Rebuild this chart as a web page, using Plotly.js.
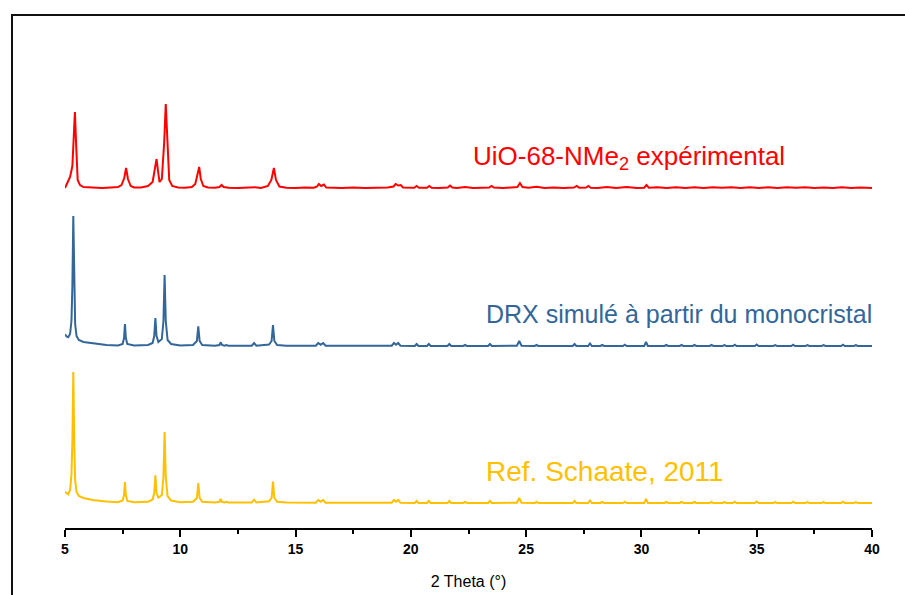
<!DOCTYPE html>
<html>
<head>
<meta charset="utf-8">
<script src="https://cdn.plot.ly/plotly-3.0.1.min.js"></script>
<style>
  html, body { margin: 0; padding: 0; overflow: hidden; background: #fff; }
  #wrap { position: relative; width: 905px; height: 595px; overflow: hidden; }
  #chart { width: 905px; height: 595px; }
  #frame { position: absolute; left: 11px; top: 14px; width: 2000px; height: 2000px;
           border-left: 2px solid #111; border-top: 2px solid #111; pointer-events: none; }
</style>
</head>
<body>
<div id="wrap"><div id="chart"></div><div id="frame"></div></div>
<script>
// ---- Data (intensity above each pattern's own baseline, arbitrary units) ----
const expX = [5.00,5.10,5.22,5.32,5.38,5.43,5.48,5.55,5.65,5.8,6.2,6.6,7.0,7.3,7.45,7.57,7.65,7.73,7.85,8.0,
  8.3,8.6,8.8,8.9,8.97,9.04,9.10,9.20,9.30,9.37,9.44,9.52,9.65,9.9,10.2,10.5,10.65,10.75,10.82,10.89,
  11.0,11.2,11.5,11.70,11.79,11.88,12.1,12.5,12.9,13.24,13.5,13.8,13.95,14.06,14.15,14.3,14.6,15.0,15.4,15.8,
  15.93,16.01,16.11,16.23,16.33,16.6,17.0,17.5,18.0,18.5,19.0,19.25,19.34,19.45,19.56,19.66,19.9,20.15,20.25,20.35,
  20.7,20.8,20.9,21.2,21.6,21.7,21.8,22.0,22.35,22.7,23.1,23.4,23.5,23.6,24.0,24.4,24.62,24.73,24.84,25.1,
  25.45,25.8,26.2,26.6,27.08,27.19,27.3,27.6,27.7,27.8,28.1,28.5,28.9,29.36,29.8,30.12,30.22,30.32,30.7,31.1,
  31.5,31.9,32.3,32.7,33.1,33.5,33.9,34.3,34.7,35.1,35.5,35.9,36.3,36.7,37.1,37.5,37.9,38.3,38.7,39.1,
  39.5,40.0];
const expY = [0,5,11,22,50,76,45,8,3,1,0.5,0,0.5,1,3,10,20,9,2,0.5,
  0.5,2,6,18,29,16,6,9,45,84,40,8,2,0.5,0.3,1,4,13,21,9,
  2,0.5,0.3,1,3,1,0.3,0,0.5,0.8,0,2,8,20,8,1.5,0.3,0,0.5,0.3,
  1.5,4,2,3.5,0.5,0.3,0,0.5,0,0.3,0.5,1.5,4,2.5,3,0.5,0.3,0.3,2,0.3,
  0.3,2,0.3,0,0.5,2.5,0.5,0,1,0,0.3,0.5,2,0.5,0,0.3,1,5,1,0.3,
  1.3,0,0.5,0,0.5,2,0.3,0.5,2,0.3,0,1,0,1,0,0.3,3,0.3,0.8,0,
  0.8,0,0.8,0,0.8,0.2,0.8,0,0.7,0,0.7,0,0.7,0.2,0.8,0,0.6,0,0.8,0,
  0.5,0];

const simX = [
  5.00,5.07,5.14,5.22,5.28,5.32,5.36,5.40,5.44,5.50,5.60,5.80,6.2,6.8,7.3,
  7.5,7.56,7.6,7.64,7.7,8.0,
  8.6,8.8,8.87,8.92,8.97,9.05,9.2,9.27,9.32,9.37,9.45,9.6,10.0,
  10.55,10.72,10.78,10.84,10.95,11.5,
  11.70,11.75,11.81,11.92,12.0,12.08,
  13.1,13.2,13.3,
  13.85,13.96,14.02,14.08,14.2,14.6,
  15.88,15.98,16.09,16.2,16.3,
  19.17,19.27,19.36,19.45,19.55,
  20.17,20.25,20.33, 20.7,20.78,20.86, 21.59,21.67,21.75, 22.27,22.35,22.43, 23.35,23.43,23.51,
  24.6,24.7,24.8, 25.37,25.45,25.53, 27.02,27.1,27.18, 27.69,27.77,27.85, 28.22,28.3,28.38,
  29.2,29.28,29.36, 30.12,30.2,30.28, 31.0,31.08,31.16, 31.66,31.74,31.82, 32.22,32.3,32.38,
  32.96,33.04,33.12, 33.52,33.6,33.68, 33.97,34.05,34.13, 34.92,35.0,35.08, 35.72,35.8,35.88,
  36.5,36.58,36.66, 37.12,37.2,37.28, 37.82,37.9,37.98, 38.66,38.74,38.82, 39.22,39.3,39.38, 40.0];
const simY = [
  11.7,9.5,8.7,12,25,60,130,60,22,10,6,4,2.5,1,0.5,
  2,8,22,8,2,0.5,
  1,3,10,28,10,4,7,25,71,25,6,2,0.5,
  1,5,19.7,5,1,0.3,
  1,3.7,1,0.3,1,0.3,
  0.3,3,0.3,
  1.5,5,21,5,1,0.3,
  0.3,3,1.3,3,0.3,
  0.3,3,1.3,3,0.3,
  0,2,0, 0,2,0, 0,2,0, 0,1,0, 0,2,0,
  0.3,5,0.3, 0,1,0, 0,2,0, 0,2.5,0, 0,1,0,
  0,1.3,0, 0,4,0, 0,1,0, 0,1,0, 0,1,0,
  0,1,0, 0,0.8,0, 0,1.3,0, 0,1.5,0, 0,0.8,0,
  0,1.3,0, 0,0.8,0, 0,0.8,0, 0,1.3,0, 0,0.8,0, 0];
const refY = [
  11.3,9.5,8.6,13,28,62,131,62,23,11,7,5,3,1.5,0.8,
  2.5,8,21,8,2,0.8,
  1.2,3.5,10,27.6,10,5.3,8,26,71,26,7,2.5,0.8,
  1.2,5,20,5,1.2,0.5,
  1.2,4,1.2,0.5,1.2,0.5,
  0.5,3.3,0.5,
  1.8,5,21.3,5,1.2,0.5,
  0.3,3,1.3,3,0.3,
  0.3,3,1.3,3,0.3,
  0,2,0, 0,2,0, 0,2,0, 0,1,0, 0,2,0,
  0.3,5,0.3, 0,1,0, 0,2,0, 0,2.5,0, 0,1,0,
  0,1.3,0, 0,4,0, 0,1,0, 0,1,0, 0,1,0,
  0,1,0, 0,0.8,0, 0,1.3,0, 0,1.5,0, 0,0.8,0,
  0,1.3,0, 0,0.8,0, 0,0.8,0, 0,1.3,0, 0,0.8,0, 0];

const seriesNames = ["UiO-68-NMe<sub>2</sub> expérimental", "DRX simulé à partir du monocristal", "Ref. Schaate, 2011"];
const tickVals = [5, 10, 15, 20, 25, 30, 35, 40];
const tickText = ["5", "10", "15", "20", "25", "30", "35", "40"];

// ---- Presentation ----
const offsets = [340, 182, 25];
const colors = ["#FF0000", "#336699", "#FFC000"];
const labelPos = [[22.62, 371], [23.17, 214], [23.17, 57]];
const labelSize = [26, 25, 28];
const FONT = "Liberation Sans, Arial, sans-serif";

const xs = [expX, simX, simX];
const ys = [expY, simY, refY];
const traces = ys.map((yy, i) => ({
  x: xs[i], y: yy.map(v => v + offsets[i]), type: "scatter", mode: "lines",
  line: { color: colors[i], width: 2 }, name: seriesNames[i], hoverinfo: "skip"
}));

const annotations = seriesNames.map((t, i) => ({
  x: labelPos[i][0], y: labelPos[i][1], xref: "x", yref: "y", text: t,
  showarrow: false, xanchor: "left", yanchor: "middle",
  font: { family: FONT, size: labelSize[i], color: colors[i] }
}));

const layout = {
  width: 905, height: 595,
  margin: { l: 65, r: 33, t: 98, b: 67 },
  paper_bgcolor: "#fff", plot_bgcolor: "#fff",
  showlegend: false,
  font: { family: FONT },
  xaxis: {
    range: [5, 40], tickvals: tickVals, ticktext: tickText,
    ticks: "outside", ticklen: 7, tickwidth: 2, tickcolor: "#000",
    minor: { dtick: 2.5, tick0: 5, ticks: "outside", ticklen: 4, tickwidth: 2, tickcolor: "#000" },
    showline: true, linewidth: 2, linecolor: "#000", showgrid: false, zeroline: false,
    tickfont: { family: FONT, size: 14, color: "#000", weight: 700 },
    title: { text: "2 Theta (°)", font: { family: FONT, size: 16, color: "#000" }, standoff: 20 }
  },
  yaxis: { range: [0, 430], visible: false, showgrid: false, zeroline: false },
  annotations: annotations
};

Plotly.newPlot("chart", traces, layout, { staticPlot: true, displayModeBar: false });
</script>
</body>
</html>
